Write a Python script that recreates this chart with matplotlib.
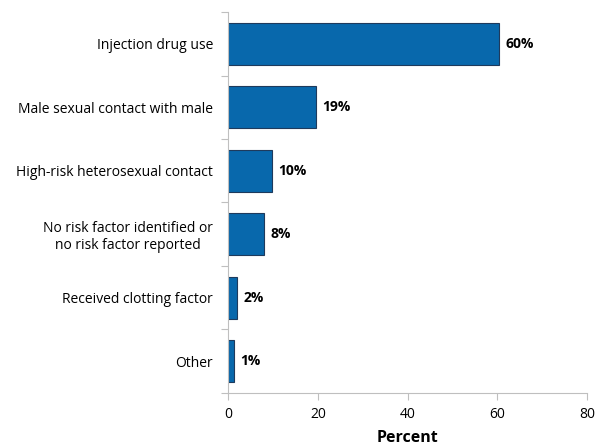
import matplotlib
matplotlib.use("Agg")
import matplotlib.pyplot as plt

categories = ["Injection drug use", "Male sexual contact with male",
              "High-risk heterosexual contact",
              "No risk factor identified or\nno risk factor reported",
              "Received clotting factor", "Other"]
values = [60.5, 19.6, 9.7, 8.0, 2.0, 1.2]
labels = ["60%", "19%", "10%", "8%", "2%", "1%"]
xticks = [0, 20, 40, 60, 80]

plt.rcParams['font.family'] = ['Open Sans', 'DejaVu Sans']

fig = plt.figure(figsize=(6.02, 4.47), dpi=100)
ax = fig.add_axes([0.379, 0.121, 0.596, 0.852])

n = len(categories)
pos = list(range(n))
ax.barh(pos, values, height=0.66, color="#0868AC", edgecolor="#1e3a5c", linewidth=0.8)
ax.set_ylim(n - 0.5, -0.5)
ax.set_xlim(0, 80)
ax.set_xticks(xticks)
ax.set_xticklabels([str(t) for t in xticks], fontsize=10)

ax.set_yticks([p - 0.5 for p in range(n + 1)], minor=False)
ax.set_yticklabels([])
ax.set_yticks(pos, minor=True)
ax.set_yticklabels(categories, minor=True, fontsize=10, multialignment='center')
ax.tick_params(axis='y', which='minor', length=0, pad=11)
ax.tick_params(axis='y', which='major', length=5, color="#bfbfbf", direction='out')
ax.tick_params(axis='x', length=5, color="#bfbfbf", direction='out', pad=5)

for s in ['top', 'right']:
    ax.spines[s].set_visible(False)
for s in ['left', 'bottom']:
    ax.spines[s].set_color("#bfbfbf")

for p, v, l in zip(pos, values, labels):
    ax.text(v + 1.4, p, l, va='center', ha='left', fontsize=10, fontweight='bold')

ax.set_xlabel("Percent", fontsize=11.5, fontweight='bold', labelpad=6)

fig.savefig("out.png", dpi=100)
